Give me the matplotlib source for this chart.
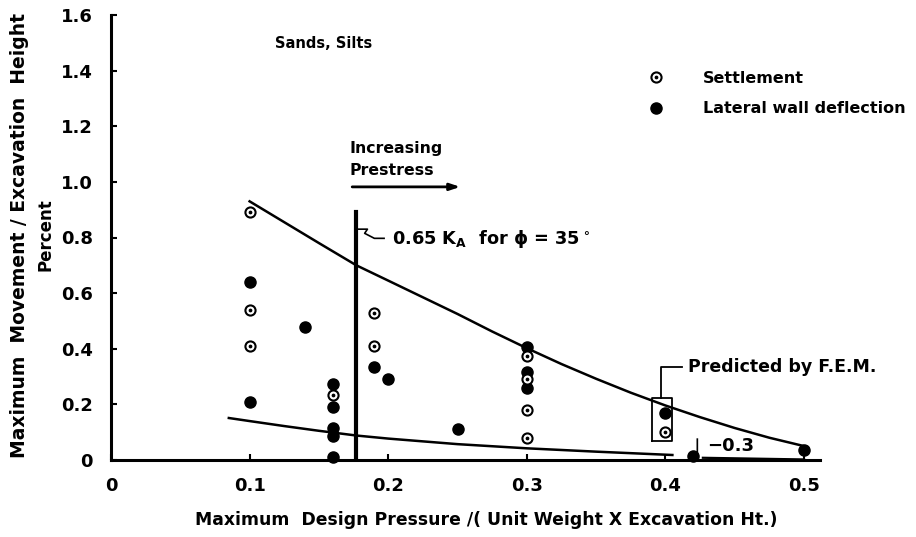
import matplotlib
matplotlib.use("Agg")
import matplotlib.pyplot as plt
from matplotlib.lines import Line2D

# --- data -------------------------------------------------------------
settle_x = [0.10, 0.10, 0.10, 0.16, 0.19, 0.19, 0.30, 0.30, 0.30, 0.30, 0.40]
settle_y = [0.89, 0.54, 0.41, 0.235, 0.53, 0.41, 0.375, 0.29, 0.18, 0.08, 0.10]

defl_x = [0.10, 0.10, 0.14, 0.16, 0.16, 0.16, 0.16, 0.16, 0.19, 0.20, 0.25,
          0.30, 0.30, 0.30, 0.40, 0.42, 0.50]
defl_y = [0.64, 0.21, 0.48, 0.275, 0.19, 0.115, 0.085, 0.01, 0.335, 0.29, 0.11,
          0.405, 0.315, 0.26, 0.17, 0.015, 0.035]

# upper and lower bounding curves
upper_x = [0.100, 0.125, 0.150, 0.177, 0.200, 0.225, 0.250, 0.275, 0.300,
           0.325, 0.350, 0.375, 0.400, 0.425, 0.450, 0.475, 0.500]
upper_y = [0.930, 0.855, 0.780, 0.700, 0.645, 0.585, 0.525, 0.462, 0.402,
           0.345, 0.292, 0.242, 0.196, 0.154, 0.115, 0.080, 0.050]
lower_x = [0.085, 0.100, 0.125, 0.150, 0.177, 0.200, 0.250, 0.300, 0.350, 0.405]
lower_y = [0.151, 0.140, 0.122, 0.105, 0.088, 0.077, 0.057, 0.042, 0.030, 0.018]
lower_tail_x = [0.427, 0.50]
lower_tail_y = [0.008, 0.002]

# 0.65 K_A line for phi = 35 deg
ka_x = 0.177
ka_top = 0.89

x_ticks = [0, 0.1, 0.2, 0.3, 0.4, 0.5]
x_ticklabels = ["0", "0.1", "0.2", "0.3", "0.4", "0.5"]
y_ticks = [0, 0.2, 0.4, 0.6, 0.8, 1.0, 1.2, 1.4, 1.6]
y_ticklabels = ["0", "0.2", "0.4", "0.6", "0.8", "1.0", "1.2", "1.4", "1.6"]

# --- figure -----------------------------------------------------------
plt.rcParams["font.family"] = ["DejaVu Sans"]
plt.rcParams["font.weight"] = "bold"
plt.rcParams["mathtext.fontset"] = "dejavusans"
plt.rcParams["mathtext.default"] = "bf"

fig = plt.figure(figsize=(9.16, 5.37), dpi=100)
ax = fig.add_axes([111 / 916, 1 - 460 / 537, 709 / 916, 445 / 537])
ax.set_xlim(0, 0.5115)
ax.set_ylim(0, 1.6)

for s in ("top", "right"):
    ax.spines[s].set_visible(False)
for s in ("left", "bottom"):
    ax.spines[s].set_linewidth(2.2)

ax.set_xticks(x_ticks)
ax.set_xticklabels(x_ticklabels)
ax.set_yticks(y_ticks)
ax.set_yticklabels(y_ticklabels)
ax.tick_params(direction="in", length=4, width=1.5, labelsize=13)
ax.tick_params(axis="x", pad=12)
ax.tick_params(axis="y", pad=13)
for lab in ax.get_xticklabels() + ax.get_yticklabels():
    lab.set_fontweight("bold")

# curves
ax.plot(upper_x, upper_y, color="black", lw=1.8, solid_joinstyle="round")
ax.plot(lower_x, lower_y, color="black", lw=1.8, solid_joinstyle="round")
ax.plot(lower_tail_x, lower_tail_y, color="black", lw=1.6, clip_on=False)
ax.plot([ka_x, ka_x], [0, ka_top], color="black", lw=3)

# data points
ax.plot(defl_x, defl_y, "o", ms=8, color="black", mec="black", clip_on=False, zorder=4)
ax.plot(settle_x, settle_y, "o", ms=7.3, mfc="white", mec="black", mew=1.5,
        clip_on=False, zorder=5)
ax.plot(settle_x, settle_y, "o", ms=1.7, color="black", clip_on=False, zorder=6)

# annotations
ax.text(0.118, 1.497, "Sands, Silts", fontsize=10.5, fontweight="bold", va="center")
ax.text(0.172, 1.119, "Increasing", fontsize=11.3, fontweight="bold", va="center")
ax.text(0.172, 1.040, "Prestress", fontsize=11.3, fontweight="bold", va="center")
ax.annotate("", xy=(0.254, 0.982), xytext=(0.172, 0.982),
            arrowprops=dict(arrowstyle="-|>,head_length=0.6,head_width=0.2",
                            color="black", lw=2))

ax.plot([ka_x, 0.185, 0.183, 0.190, 0.197], [0.83, 0.83, 0.815, 0.797, 0.797],
        color="black", lw=1.2)
ax.text(0.203, 0.795, r"0.65 K$_\mathbf{A}$  for $\mathbf{\phi}$ = 35$^\circ$",
        fontsize=12.8, fontweight="bold", va="center")

# F.E.M. box and leader
ax.plot([0.390, 0.4045, 0.4045, 0.390, 0.390], [0.068, 0.068, 0.223, 0.223, 0.068],
        color="black", lw=1.3)
ax.plot([0.397, 0.397, 0.412], [0.223, 0.335, 0.335], color="black", lw=1.3)
ax.text(0.416, 0.335, "Predicted by F.E.M.", fontsize=12.5, fontweight="bold", va="center")

ax.plot([0.423, 0.423, 0.419], [0.075, 0.004, 0.010], color="black", lw=1.2)
ax.text(0.430, 0.05, "\u22120.3", fontsize=13, va="center")

# legend
h_settle = (Line2D([], [], ls="", marker="o", ms=7.3, mfc="white", mec="black", mew=1.5),
            Line2D([], [], ls="", marker="o", ms=1.7, color="black"))
h_defl = Line2D([], [], ls="", marker="o", ms=8, color="black")
ax.legend([h_settle, h_defl], ["Settlement", "Lateral wall deflection"],
          loc="upper left", bbox_to_anchor=(0.757, 0.874), frameon=False,
          handletextpad=2.45, labelspacing=0.95, handlelength=1.0,
          borderaxespad=0, borderpad=0, prop={"weight": "bold", "size": 11.5})

fig.text(486 / 916, 1 - 520 / 537,
         "Maximum  Design Pressure /( Unit Weight X Excavation Ht.)",
         ha="center", va="center", fontsize=12.4, fontweight="bold")
fig.text(20 / 916, 1 - 235 / 537, "Maximum  Movement / Excavation  Height",
         rotation=90, ha="center", va="center", fontsize=13.5, fontweight="bold")
fig.text(46 / 916, 1 - 235 / 537, "Percent",
         rotation=90, ha="center", va="center", fontsize=12, fontweight="bold")

fig.savefig("out.png", dpi=100)
